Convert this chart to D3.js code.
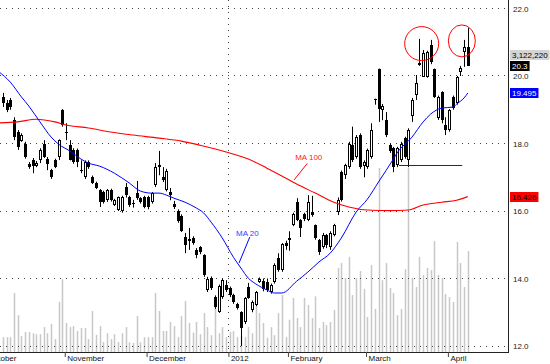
<!DOCTYPE html>
<html>
<head>
<meta charset="utf-8">
<script src="https://cdn.jsdelivr.net/npm/d3@7"></script>
<style>
  body { margin: 0; background: #fff; }
  svg { display: block; }
  text { font-family: "Liberation Sans", Arial, sans-serif; }
</style>
</head>
<body>
<svg id="chart" width="550" height="364"></svg>
<script>
// daily candles, index 0 = first visible session
const opens = [19.38,19.2,19.3,18.69,18.34,18.07,18.0,17.4,17.51,17.33,
  17.51,18.0,17.54,17.21,17.51,17.6,19.0,18.35,17.95,17.81,
  17.8,17.22,17.0,17.45,17.0,16.83,16.62,16.55,16.32,16.62,
  16.18,16.03,16.0,16.71,16.41,16.25,16.53,16.38,16.41,16.41,
  16.27,16.77,17.36,17.0,16.62,16.56,16.21,16.0,15.85,15.23,
  15.17,15.2,14.84,14.93,14.69,13.66,14.02,13.45,13.0,13.45,
  13.81,13.72,13.51,13.24,13.0,12.71,13.75,13.06,13.21,13.9,
  13.93,13.9,13.6,13.9,14.6,14.25,15.05,15.14,15.6,16.27,
  15.73,15.9,15.73,15.98,15.58,15.14,14.93,15.29,14.93,15.29,
  15.97,17.15,17.06,17.3,17.95,17.6,18.25,17.33,17.3,17.6,
  19.3,20.2,18.99,18.69,17.95,17.86,17.36,17.51,18.15,17.51,
  18.8,19.44,20.32,19.97,19.97,20.92,20.2,18.75,19.52,18.55,
  18.4,19.38,19.2,20.12,20.7,20.87];
const highs = [19.5,19.29,19.35,18.78,18.4,18.3,18.05,17.45,17.57,17.48,
  17.86,18.1,17.6,17.25,17.55,18.12,19.02,18.6,18.1,17.86,
  17.85,17.5,17.5,17.5,17.05,16.87,16.65,16.6,16.65,16.66,
  16.36,16.43,16.45,16.83,16.45,16.33,16.89,16.41,16.45,16.45,
  16.56,17.42,17.78,17.3,17.25,16.68,16.3,16.05,15.9,15.35,
  15.5,15.25,14.9,14.96,14.72,14.05,14.06,13.5,13.82,14.0,
  13.95,13.76,13.55,13.28,13.03,13.45,13.87,13.35,13.63,14.03,
  14.0,14.0,13.85,14.45,14.75,15.05,15.12,15.4,15.95,16.38,
  15.76,15.95,16.47,16.45,15.6,15.17,15.35,15.32,15.4,15.62,
  16.4,17.2,17.4,18.05,18.5,18.25,18.3,17.5,17.85,18.6,
  19.33,20.22,19.17,18.93,18.0,17.9,17.9,18.05,18.2,18.45,
  19.35,20.03,21.1,20.77,20.75,21.07,20.22,19.42,19.55,18.78,
  19.02,19.42,20.0,20.3,21.07,21.42];
const lows = [19.08,18.93,19.0,18.1,17.81,18.05,17.55,17.25,17.12,17.3,
  17.42,17.57,17.21,16.95,17.27,17.51,18.5,18.1,17.5,17.4,
  17.3,17.12,16.95,17.25,16.8,16.65,16.12,16.22,16.27,16.28,
  16.15,16.0,15.95,16.4,16.12,16.1,16.33,16.22,16.08,16.05,
  16.22,16.71,17.06,16.86,16.58,16.32,16.06,15.65,15.38,14.75,
  14.85,15.0,14.6,14.72,14.05,13.6,13.66,13.1,12.98,13.4,
  13.6,13.45,13.25,13.08,12.0,12.65,13.4,13.0,13.18,13.87,
  13.62,13.6,13.55,13.85,14.2,14.2,14.85,14.82,15.55,15.7,
  15.23,15.7,15.7,15.83,15.15,14.7,14.88,14.9,14.85,15.25,
  15.88,16.28,16.95,17.25,17.45,17.55,17.25,17.0,17.25,17.55,
  19.15,18.64,18.69,18.19,17.72,17.15,17.3,17.45,17.55,17.3,
  18.64,19.29,20.3,19.97,19.95,20.35,19.35,18.7,18.6,18.25,
  18.35,19.0,19.15,20.0,20.27,20.3];
const closes = [19.2,18.99,19.08,18.19,17.9,18.25,17.6,17.3,17.33,17.42,
  17.81,17.6,17.39,17.0,17.3,18.1,18.55,18.3,17.51,17.45,
  17.45,17.2,17.45,17.3,16.83,16.68,16.27,16.27,16.62,16.32,
  16.32,16.41,16.41,16.47,16.18,16.22,16.38,16.27,16.12,16.12,
  16.53,17.3,17.3,16.92,17.2,16.47,16.12,15.7,15.41,14.99,
  15.12,15.05,14.69,14.78,14.1,14.0,13.72,13.15,13.78,13.95,
  13.66,13.51,13.3,13.12,12.53,13.42,13.42,13.3,13.6,14.0,
  13.7,13.66,13.8,14.4,14.25,15.02,14.95,15.2,15.9,15.73,
  15.5,15.75,16.27,15.88,15.2,14.78,15.29,14.99,15.35,15.58,
  16.32,16.32,17.36,18.0,17.51,18.2,17.3,17.45,17.8,18.4,
  19.32,19.02,19.11,18.25,17.78,17.3,17.86,18.0,17.6,18.4,
  19.29,19.79,20.4,20.68,20.7,20.42,19.38,19.38,18.69,18.4,
  18.99,19.05,19.97,20.23,20.85,20.3];
// volume in millions of shares
const volumes = [0.46,0.46,0.46,1.82,1.14,0.49,0.62,0.62,0.58,0.55,
  0.55,0.77,0.58,0.87,0.40,1.55,2.25,0.90,0.77,0.80,
  0.65,0.74,0.74,0.40,1.27,0.53,0.80,0.31,0.58,0.40,
  0.55,0.31,0.58,0.77,0.30,0.28,1.11,0.30,0.46,0.46,
  0.46,1.82,1.27,0.65,0.65,0.93,0.80,0.46,1.11,1.58,
  0.90,0.60,0.93,0.55,1.20,0.77,0.52,1.48,0.58,0.77,
  0.46,0.62,0.65,0.46,0.50,0.46,0.77,0.58,1.50,1.20,
  0.90,0.44,0.77,0.52,1.20,1.76,0.46,1.00,1.67,1.05,
  0.77,1.67,1.45,1.05,1.72,0.74,0.93,0.83,0.93,1.30,
  2.60,2.75,2.29,2.94,1.76,2.29,2.50,1.95,1.08,2.69,
  1.33,5.69,2.22,2.75,1.98,1.82,1.14,1.33,2.56,5.69,
  2.29,2.01,2.94,2.38,2.60,2.53,3.43,2.38,2.29,1.79,
  1.70,1.55,3.40,2.75,2.01,3.12222];

// moving averages (index, value)
const ma20Idx = [-1,2,5,7,10,13,15,18,21,23,26,30,34,37,40,42,44,46,49,52,54,56,59,62,64,66,68,71,73,75,79,82,85,88,91,95,98,101,105,106,110,113,115,118,121,122,124,125];
const ma20Val = [20.12,19.82,19.38,19.11,18.64,18.19,17.98,17.78,17.54,17.42,17.33,17.12,16.83,16.59,16.53,16.53,16.47,16.38,16.26,16.09,15.94,15.67,15.2,14.63,14.31,14.01,13.84,13.66,13.57,13.57,13.92,14.19,14.49,14.75,15.2,15.97,16.35,16.86,17.54,17.72,18.19,18.64,18.87,19.05,19.08,19.17,19.35,19.495];
const ma100Idx = [-1,4,9,14,17,23,29,35,42,48,53,61,66,71,75,79,84,89,93,98,104,109,113,118,122,125];
const ma100Val = [18.61,18.64,18.72,18.64,18.55,18.46,18.34,18.25,18.16,18.07,17.95,17.72,17.54,17.27,17.04,16.8,16.53,16.26,16.12,16.03,16.01,16.03,16.18,16.26,16.32,16.426];

const priceTicks = [12, 14, 16, 18, 20, 22];
const monthNames = ["October", "November", "December", "2012", "February", "March", "April"];
const monthIdx = [-4.3, 17, 39, 61, 77, 98, 120];

// support line and highlighted tops
const supportLevel = 17.35, supportFrom = 106.5, supportTo = 123.5;
const circleIdx = [112.6, 123.4];
const circlePrice = [20.96, 21.04];

const plotW = 508, plotH = 352;
const svg = d3.select("#chart");

const x = d3.scaleLinear().domain([0, 125]).range([2.8, 467.8]);
const y = d3.scaleLinear().domain([12, 22]).range([346, 8.5]);
const yVol = d3.scaleLinear().domain([0, 10.88]).range([plotH, 0]);

svg.append("defs").append("clipPath").attr("id", "plot")
  .append("rect").attr("width", plotW).attr("height", plotH);

const days = d3.range(opens.length).map(i => ({
  i, o: opens[i], h: highs[i], l: lows[i], c: closes[i], v: volumes[i]
}));
const cx = d => Math.round(x(d.i));

const plot = svg.append("g").attr("clip-path", "url(#plot)");

// volume bars
plot.append("g").selectAll("rect").data(days).join("rect")
  .attr("x", d => cx(d) - 0.25)
  .attr("width", 1.5)
  .attr("y", d => yVol(d.v))
  .attr("height", d => plotH - yVol(d.v))
  .attr("fill", "#c8c8c8");

// dotted grid
const grid = plot.append("g").attr("stroke", "#444").attr("stroke-dasharray", "1,5");
grid.selectAll("line").data(priceTicks).join("line")
  .attr("x1", 0).attr("x2", plotW)
  .attr("y1", d => Math.floor(y(d)) + 0.5)
  .attr("y2", d => Math.floor(y(d)) + 0.5);
const xYear = Math.round(x(monthIdx[3]) - 1.3) + 0.5;
grid.append("line").attr("x1", xYear).attr("x2", xYear).attr("y1", 0).attr("y2", plotH);

// candles
const cg = plot.append("g");
cg.selectAll("line").data(days).join("line")
  .attr("x1", d => cx(d) + 0.5).attr("x2", d => cx(d) + 0.5)
  .attr("y1", d => y(d.h)).attr("y2", d => y(d.l))
  .attr("stroke", "#000");
cg.selectAll("rect").data(days).join("rect")
  .each(function (d) {
    const top = Math.round(y(Math.max(d.o, d.c)));
    const bot = Math.round(y(Math.min(d.o, d.c)));
    const h = Math.max(bot - top, 1);
    const r = d3.select(this);
    if (d.c >= d.o && h > 2) {
      r.attr("x", cx(d) - 0.5).attr("y", top + 0.5).attr("width", 2).attr("height", h - 1)
        .attr("fill", "#fff").attr("stroke", "#000");
    } else {
      r.attr("x", cx(d) - 1).attr("y", top).attr("width", 3).attr("height", h)
        .attr("fill", "#000");
    }
  });

// moving averages
const line = d3.line().x(d => x(d[0])).y(d => y(d[1])).curve(d3.curveMonotoneX);
plot.append("path").datum(d3.zip(ma100Idx, ma100Val)).attr("d", line)
  .attr("fill", "none").attr("stroke", "#ff0000").attr("stroke-width", 1.1);
plot.append("path").datum(d3.zip(ma20Idx, ma20Val)).attr("d", line)
  .attr("fill", "none").attr("stroke", "#0000ff").attr("stroke-width", 1);

// support line
plot.append("line")
  .attr("x1", x(supportFrom)).attr("x2", x(supportTo))
  .attr("y1", Math.round(y(supportLevel)) + 0.5).attr("y2", Math.round(y(supportLevel)) + 0.5)
  .attr("stroke", "#1c1ca8").attr("stroke-width", 1);

// circled highs
plot.selectAll("ellipse").data(circleIdx).join("ellipse")
  .attr("cx", d => x(d))
  .attr("cy", (d, k) => y(circlePrice[k]))
  .attr("rx", (d, k) => k === 0 ? 17 : 13.5)
  .attr("ry", (d, k) => k === 0 ? 17 : 16)
  .attr("fill", "none").attr("stroke", "#ff0000").attr("stroke-width", 1);

// labels for the averages
plot.append("text").attr("x", x(62.7)).attr("y", y(15.26))
  .attr("font-size", 8).attr("fill", "#3b3bff").text("MA 20");
plot.append("line")
  .attr("x1", x(66.4)).attr("y1", y(15.23)).attr("x2", x(63.5)).attr("y2", y(14.46))
  .attr("stroke", "#0000ff");
plot.append("text").attr("x", x(78.6)).attr("y", y(17.52))
  .attr("font-size", 8).attr("fill", "#ff2020").text("MA 100");
plot.append("line")
  .attr("x1", x(81.85)).attr("y1", y(17.41)).attr("x2", x(78.3)).attr("y2", y(16.92))
  .attr("stroke", "#ff0000");

// frame
svg.append("line").attr("x1", plotW + 0.5).attr("x2", plotW + 0.5).attr("y1", 0).attr("y2", plotH + 1)
  .attr("stroke", "#222");
svg.append("line").attr("x1", 0).attr("x2", plotW + 1).attr("y1", plotH + 0.5).attr("y2", plotH + 0.5)
  .attr("stroke", "#222");

// price axis
const axisR = svg.append("g").attr("transform", `translate(${plotW},0)`)
  .call(d3.axisRight(y).tickValues(priceTicks).tickFormat(d3.format(".1f")).tickSize(0).tickPadding(5));
axisR.select(".domain").remove();
axisR.attr("font-size", 8).attr("font-family", null);
axisR.selectAll("text").attr("fill", "#222");

// month axis
const axisB = svg.append("g").attr("transform", `translate(-1.3,${plotH})`)
  .call(d3.axisBottom(x).tickValues(monthIdx).tickFormat((d, k) => monthNames[k]).tickSize(5).tickSizeOuter(0));
axisB.select(".domain").remove();
axisB.attr("font-size", 8).attr("font-family", null);
axisB.selectAll(".tick line").attr("stroke", "#444");
axisB.selectAll(".tick text").attr("text-anchor", "start").attr("x", 2).attr("y", 3).attr("dy", "0.71em").attr("fill", "#111");

// value tags on the right
function valueTag(cy, label, fill, color) {
  const g = svg.append("g");
  const t = g.append("text").attr("x", 512).attr("y", cy + 3)
    .attr("font-size", 8).attr("fill", color).text(label);
  const w = t.node().getComputedTextLength();
  g.insert("rect", "text").attr("x", 510).attr("y", Math.round(cy) - 5)
    .attr("width", w + 4).attr("height", 10).attr("fill", fill);
}
const last = days.length - 1;
const yClose = y(closes[last]);
valueTag(yClose - 11, d3.format(",")(Math.round(volumes[last] * 1e6)), "#d4d4d4", "#000");
valueTag(yClose, d3.format(".1f")(closes[last]), "#000", "#fff");
valueTag(y(ma20Val[ma20Val.length - 1]), d3.format(".3f")(ma20Val[ma20Val.length - 1]), "#0000ff", "#fff");
valueTag(y(ma100Val[ma100Val.length - 1]), d3.format(".3f")(ma100Val[ma100Val.length - 1]), "#ff0000", "#000");
</script>
</body>
</html>
